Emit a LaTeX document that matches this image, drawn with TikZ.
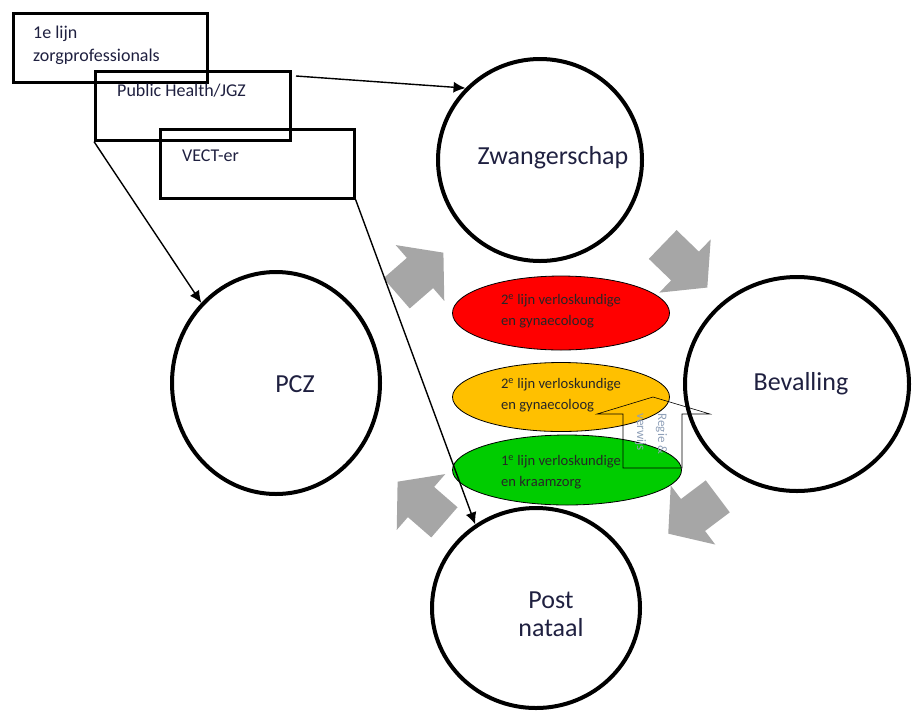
\documentclass[tikz,border=0pt]{standalone}
\usepackage{fontspec}
\setmainfont{Carlito}
\usetikzlibrary{shapes.geometric,arrows.meta}
\definecolor{redfill}{HTML}{FF0000}
\definecolor{yellowfill}{HTML}{FFC000}
\definecolor{greenfill}{HTML}{00CC00}
\definecolor{arrowgray}{HTML}{A6A6A6}
\definecolor{txt}{HTML}{1F2040}
\definecolor{callouttxt}{HTML}{8FA0B8}
\newcommand\myblockarrow[4]{%
  \fill[arrowgray, shift={(#1,#2)}, rotate=#3] (-31,-20) -- (0,-20) -- (0,-37) -- (31,0) -- (0,37) -- (0,20) -- (-31,20) -- cycle;}
\begin{document}
\begin{tikzpicture}[x=1pt,y=-1pt,
  phase/.style={draw, ellipse, line width=4pt, inner sep=0pt},
  care/.style={draw, ellipse, line width=0.8pt, inner sep=0pt},
  orgbox/.style={draw, line width=2.6pt, inner sep=0pt, anchor=north west},
  conn/.style={line width=1.4pt, -{Latex[length=12pt,width=11pt]}},
  big/.style={font=\fontsize{26}{28}\selectfont, text=txt, align=center},
  small/.style={font=\fontsize{14.6}{21}\selectfont, align=left, text=black!85},
  boxtext/.style={font=\fontsize{18}{20}\selectfont, text=txt, anchor=base west, inner sep=0pt}]
\useasboundingbox (0,0) rectangle (912,713);
% phase circles
\node[phase, minimum width=204pt, minimum height=202pt] (zw) at (540,160) {};
\node[phase, minimum width=208pt, minimum height=222pt] (pcz) at (276,383) {};
\node[phase, minimum width=224pt, minimum height=214pt] (bev) at (797,384) {};
\node[phase, minimum width=208pt, minimum height=200pt] (post) at (536,608) {};
\node[big] (zwl) at (553,158) {Zwangerschap};
\node[big] (pczl) at (295,384) {PCZ};
\node[big] (bevl) at (801,384) {Bevalling};
\node[big] (postl) at (551,614) {Post\\nataal};
% care ellipses
\node[care, fill=redfill, minimum width=217pt, minimum height=74pt] (red) at (561,313) {};
\node[care, fill=yellowfill, minimum width=217pt, minimum height=69pt] (yel) at (561,397) {};
\node[care, fill=greenfill, minimum width=229pt, minimum height=70pt] (grn) at (567,470) {};
\node[small] (redt) at (561,311) {2\textsuperscript{e} lijn verloskundige\\en gynaecoloog};
\node[small] (yelt) at (561,395) {2\textsuperscript{e} lijn verloskundige\\en gynaecoloog};
\node[small] (grnt) at (561,472) {1\textsuperscript{e} lijn verloskundige\\en kraamzorg};
% gray block arrows
\myblockarrow{420}{273}{41}{}
\myblockarrow{685}{266}{-44}{}
\myblockarrow{421}{502}{139}{}
\myblockarrow{693}{515}{-143}{}
% callout
\draw[line width=0.6pt] (623,414) -- (597,414) -- (653,397) -- (710,414) -- (682,414) -- (682,468) -- (623,468) -- cycle;
\node[font=\fontsize{13}{21}\selectfont, text=callouttxt, rotate=-90, align=left] (callt) at (651,434) {Regie \&\\verwijs};
% organisation boxes
\node[orgbox, minimum width=194pt, minimum height=69pt] (b1) at (12,12) {};
\node[orgbox, minimum width=195pt, minimum height=69pt] (b2) at (94,70) {};
\node[orgbox, minimum width=194pt, minimum height=69pt] (b3) at (159,128) {};
\node[boxtext] (b1t1) at (33,38) {1e lijn};
\node[boxtext] (b1t2) at (33,61) {zorgprofessionals};
\node[boxtext] (b2t) at (117,96) {Public Health/JGZ};
\node[boxtext] (b3t) at (182,161) {VECT-er};
% connectors
\coordinate (a1s) at (296,76);
\draw[conn] (a1s) -- (zw.136);
\draw[conn] (b2.south west) -- (pcz.133);
\draw[conn] (b3.south east) -- (post.126);
\end{tikzpicture}
\end{document}
